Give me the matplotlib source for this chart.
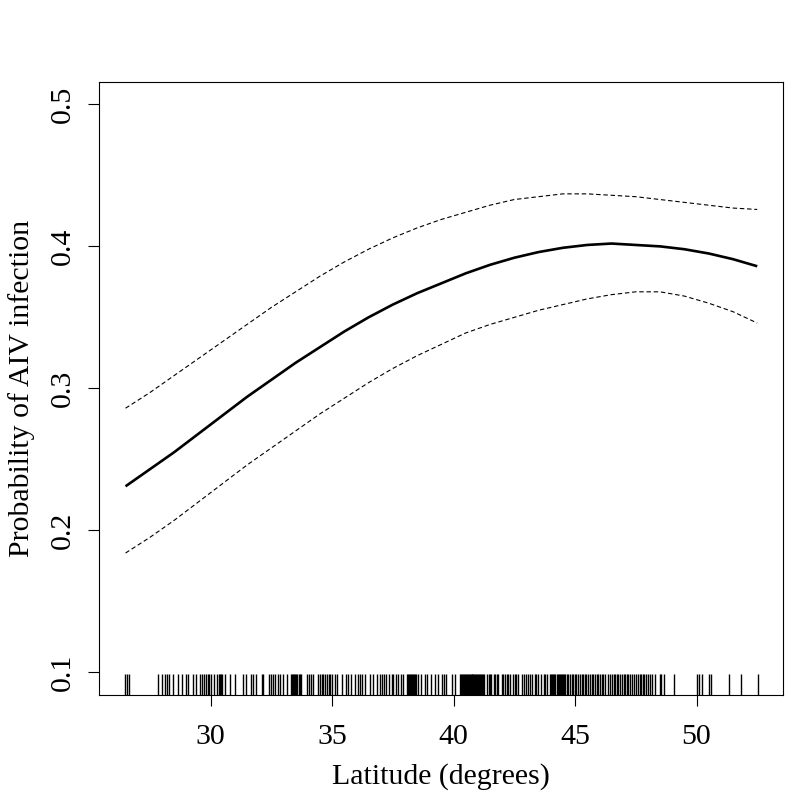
import matplotlib
matplotlib.use("Agg")
import matplotlib.pyplot as plt
import matplotlib.transforms as mtransforms

# ---- data ----
lat_grid = [26.5, 27.5, 28.5, 29.5, 30.5, 31.5, 32.5, 33.5, 34.5, 35.5, 36.5, 37.5, 38.5,
            39.5, 40.5, 41.5, 42.5, 43.5, 44.5, 45.5, 46.5, 47.5, 48.5, 49.5, 50.5, 51.5, 52.5]
fit = [0.231, 0.243, 0.255, 0.268, 0.281, 0.294, 0.306, 0.318, 0.329, 0.340, 0.350, 0.359, 0.367,
       0.374, 0.381, 0.387, 0.392, 0.396, 0.399, 0.401, 0.402, 0.401, 0.400, 0.398, 0.395, 0.391, 0.386]
upper = [0.286, 0.297, 0.309, 0.321, 0.333, 0.345, 0.357, 0.368, 0.379, 0.389, 0.398, 0.406, 0.413,
         0.419, 0.424, 0.429, 0.433, 0.435, 0.437, 0.437, 0.436, 0.435, 0.433, 0.431, 0.429, 0.427, 0.426]
lower = [0.184, 0.195, 0.207, 0.220, 0.233, 0.246, 0.258, 0.270, 0.282, 0.293, 0.304, 0.314, 0.323,
         0.331, 0.339, 0.345, 0.350, 0.355, 0.359, 0.363, 0.366, 0.368, 0.368, 0.365, 0.360, 0.354, 0.346]

rug_lat = [
    26.47, 26.55, 26.64,
    27.82, 28.02, 28.13, 28.21, 28.30, 28.46, 28.65, 28.82, 28.98, 29.09, 29.26, 29.40, 29.56,
    29.65, 29.74, 29.81, 29.89, 29.94, 30.01, 30.14, 30.28, 30.34, 30.38, 30.42, 30.47, 30.60,
    30.79, 31.00, 31.32, 31.45, 31.65, 31.75, 31.86, 32.10, 32.16, 32.40, 32.47, 32.58, 32.67,
    32.78, 32.85, 32.99, 33.13, 33.30, 33.34, 33.39, 33.43, 33.47, 33.51, 33.55, 33.63, 33.67,
    33.74, 33.98, 34.06, 34.13, 34.22, 34.42, 34.50, 34.57, 34.62, 34.70, 34.79, 34.87, 34.91,
    34.98, 35.12, 35.21,
    35.39, 35.57, 35.66, 35.80, 35.94, 36.07, 36.14, 36.24, 36.35, 36.55, 36.69, 36.86, 36.97,
    37.04, 37.13, 37.24, 37.35, 37.45, 37.51, 37.63, 37.72, 37.83, 37.93, 38.07, 38.12, 38.16,
    38.20, 38.24, 38.28, 38.33, 38.37, 38.41, 38.45, 38.53, 38.68, 38.82, 38.91, 39.09, 39.23,
    39.37, 39.51, 39.60, 39.71,
    39.92, 40.05, 40.26, 40.30, 40.34, 40.38, 40.42, 40.46, 40.50, 40.54, 40.58, 40.62, 40.66,
    40.70, 40.74, 40.78, 40.82, 40.86, 40.90, 40.94, 40.98, 41.02, 41.06, 41.10, 41.14, 41.18,
    41.22, 41.26, 41.36, 41.47, 41.52, 41.56, 41.66, 41.72, 41.77, 41.84, 41.98, 42.04, 42.11,
    42.18, 42.25, 42.32, 42.45, 42.52, 42.59, 42.66, 42.80, 42.88, 42.98, 43.07, 43.14, 43.21,
    43.35, 43.41, 43.48, 43.62, 43.73, 43.78, 43.83, 43.96, 44.00, 44.04, 44.10, 44.14, 44.18,
    44.24, 44.28, 44.33, 44.37, 44.41, 44.46, 44.50, 44.54, 44.60, 44.65, 44.72, 44.79, 44.86,
    44.92, 44.99, 45.05, 45.12, 45.20, 45.27, 45.33, 45.40, 45.47, 45.54, 45.61, 45.68, 45.75,
    45.82, 45.89, 45.95, 46.02, 46.09, 46.16, 46.25, 46.34, 46.43, 46.54, 46.59, 46.64, 46.73,
    46.78, 46.84, 46.94, 47.00, 47.05, 47.12, 47.19, 47.26, 47.34, 47.42, 47.50, 47.59, 47.67,
    47.72, 47.78, 47.85, 47.92, 48.00, 48.08, 48.15, 48.29, 48.49, 48.53, 48.66,
    49.07, 50.00, 50.11, 50.23, 50.52, 50.58, 51.34, 51.85, 52.53]

x_ticks = [30, 35, 40, 45, 50]
y_ticks = [0.1, 0.2, 0.3, 0.4, 0.5]
x_label = "Latitude (degrees)"
y_label = "Probability of AIV infection"

# ---- figure ----
plt.rcParams['font.family'] = ['Liberation Serif', 'DejaVu Serif']
fig = plt.figure(figsize=(7.89, 7.96), dpi=100)
ax = fig.add_axes([99.3 / 789, 1 - 695 / 796, (783 - 99.3) / 789, (695 - 81.7) / 796])

ax.plot(lat_grid, fit, color='black', lw=1.9, solid_capstyle='butt')
ax.plot(lat_grid, upper, color='black', lw=0.8, linestyle=(0, (4, 2.5)))
ax.plot(lat_grid, lower, color='black', lw=0.8, linestyle=(0, (4, 2.5)))

trans = mtransforms.blended_transform_factory(ax.transData, ax.transAxes)
ax.vlines(rug_lat, 0, 0.034, transform=trans, color='black', lw=1.0)

ax.set_xlim(25.42, 53.56)
ax.set_ylim(0.084, 0.516)
ax.set_xticks(x_ticks)
ax.set_yticks(y_ticks)
ax.set_xticklabels([str(v) for v in x_ticks])
ax.set_yticklabels([f"{v:.1f}" for v in y_ticks], rotation=90, va='center')

for s in ax.spines.values():
    s.set_linewidth(0.8)
fs = 21.5
ax.tick_params(axis='both', direction='out', length=8, width=0.8, labelsize=fs)
ax.tick_params(axis='x', pad=13)
ax.tick_params(axis='y', pad=9)

ax.set_xlabel(x_label, fontsize=fs, labelpad=9.5)
ax.set_ylabel(y_label, fontsize=fs, labelpad=10.8)

fig.savefig("out.png", dpi=100)
